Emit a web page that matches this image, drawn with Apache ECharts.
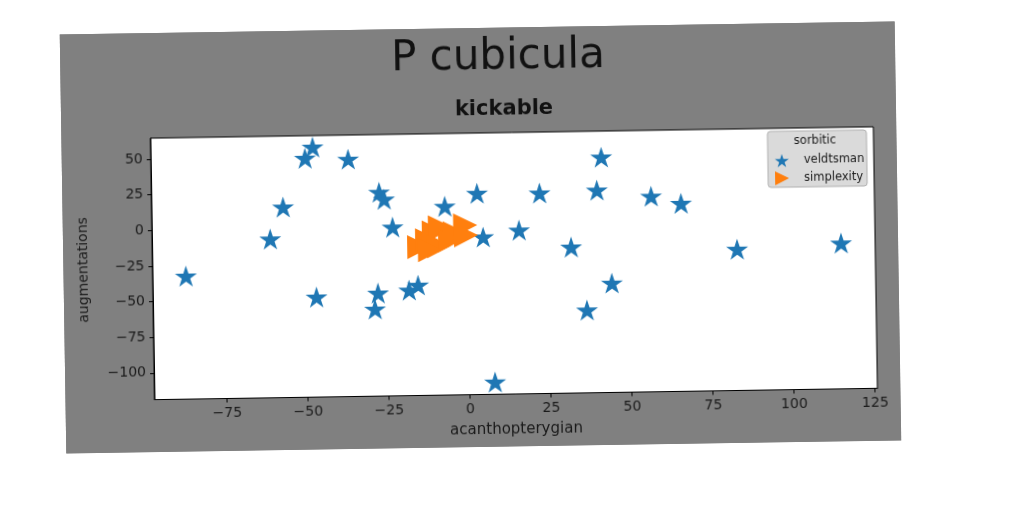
<!DOCTYPE html>
<html><head><meta charset="utf-8">
<script src="https://cdn.jsdelivr.net/npm/echarts@6/dist/echarts.min.js"></script>
<style>
html,body{margin:0;padding:0;background:#fff;width:1024px;height:512px;overflow:hidden;}
#c{position:absolute;left:63px;top:28px;width:835px;height:419px;background:#808080;transform:rotate(-0.9deg);transform-origin:50% 50%;}
</style></head>
<body><div id="c"></div>
<script>
// ---- data ----
const titleText = 'P cubicula';
const subtitleText = 'kickable';
const xName = 'acanthopterygian';
const yName = 'augmentations';
const legendTitle = 'sorbitic';
const seriesNames = ['veldtsman', 'simplexity'];
const xTicks = [-75, -50, -25, 0, 25, 50, 75, 100, 125];
const yTicks = [-100, -75, -50, -25, 0, 25, 50];
const veldtsmanX = [-87.1,-60.9,-56.8,-49.8,-47.4,-46.9,-36.5,-28.9,-27.9,-27.1,-25.6,-23.1,-18.3,-15.5,-6.9,3.1,4.8,7.8,15.9,22.4,31.9,36.5,40.1,41.6,44.3,56.8,66.0,83.1,115.2];
const veldtsmanY = [-32.4,-7.4,14.9,48.9,56.6,-48.6,47.8,-57.6,-46.5,24.3,19.3,-0.4,-44.7,-41.3,13.7,22.5,-8.3,-110.1,-3.9,21.9,-16.3,-60.7,23.3,46.4,-42.0,18.5,13.2,-19.6,-16.5];
const simplexityX = [-15.0,-12.5,-10.4,-8.5,-8.9,-5.4,-3.9,-0.7,-0.5,-11.7];
const simplexityY = [-14.6,-9.9,-4.3,-0.9,-14.2,-10.1,-5.3,0.2,-6.9,-16.9];

// ---- styling helpers ----
function starPath(){
  let d = '';
  for (let i = 0; i < 10; i++) {
    const r = (i % 2 === 0) ? 1 : 0.381966;
    const a = -Math.PI / 2 + i * Math.PI / 5;
    const x = (r * Math.cos(a)).toFixed(4), y = (r * Math.sin(a)).toFixed(4);
    d += (i === 0 ? 'M' : 'L') + x + ',' + y + ' ';
  }
  return 'path://' + d + 'Z';
}
const STAR = starPath();
const TRI = 'path://M0,0 L2,1 L0,2 Z';
const fmt = v => String(v).replace('-', '\u2212');
const zip = (a, b) => a.map((v, i) => [v, b[i]]);

const chart = echarts.init(document.getElementById('c'), null, {renderer: 'canvas'});
chart.setOption({
  animation: false,
  backgroundColor: '#808080',
  textStyle: {fontFamily: 'DejaVu Sans'},
  grid: {left: 89, top: 105, right: 23, bottom: 52.5, show: true, backgroundColor: '#fff', borderColor: '#000', borderWidth: 1, outerBoundsMode: 'none', containLabel: false},
  xAxis: {
    type: 'value', min: -97.4, max: 125.7,
    axisLine: {show: true, onZero: false, lineStyle: {color: '#000', width: 1}},
    axisTick: {show: true, length: 4, lineStyle: {color: '#000'}, customValues: xTicks},
    axisLabel: {customValues: xTicks, fontSize: 14, color: '#1a1a1a', margin: 8, formatter: fmt},
    splitLine: {show: false},
    name: xName, nameLocation: 'middle', nameGap: 28,
    nameTextStyle: {fontSize: 15, color: '#1a1a1a'}
  },
  yAxis: {
    type: 'value', min: -118.7, max: 64.7,
    axisLine: {show: true, onZero: false, lineStyle: {color: '#000', width: 1}},
    axisTick: {show: true, length: 4, lineStyle: {color: '#000'}, customValues: yTicks},
    axisLabel: {customValues: yTicks, fontSize: 14, color: '#1a1a1a', margin: 8, formatter: fmt},
    splitLine: {show: false},
    name: yName, nameLocation: 'middle', nameGap: 62, nameRotate: 90,
    nameTextStyle: {fontSize: 14, color: '#1a1a1a'}
  },
  legend: {
    orient: 'vertical', left: 708, top: 125.7, z: 10, padding: 5,
    itemWidth: 14, itemHeight: 14, itemGap: 4,
    textStyle: {fontSize: 11.5, color: '#1a1a1a', padding: [0, 0, 0, 10]},
    data: [{name: seriesNames[0], icon: STAR}, {name: seriesNames[1], icon: TRI}]
  },
  graphic: [
    {type: 'text', x: 437.8, y: 30.3, z: 10, style: {text: titleText, fontSize: 42, fontFamily: 'DejaVu Sans', fill: '#111', align: 'center', verticalAlign: 'middle'}},
    {type: 'text', x: 443, y: 81.4, z: 10, style: {text: subtitleText, fontSize: 21, fontWeight: 'bold', fontFamily: 'DejaVu Sans', fill: '#111', align: 'center', verticalAlign: 'middle'}},
    {type: 'rect', z: 5, shape: {x: 706, y: 108, width: 99, height: 56, r: 3}, style: {fill: '#dadada', stroke: '#b0b0b0', lineWidth: 1}},
    {type: 'text', x: 753.5, y: 118.3, z: 10, style: {text: legendTitle, fontSize: 11.5, fontFamily: 'DejaVu Sans', fill: '#1a1a1a', align: 'center', verticalAlign: 'middle'}}
  ],
  series: [
    {name: seriesNames[0], type: 'scatter', data: zip(veldtsmanX, veldtsmanY), symbol: STAR, symbolSize: 22, symbolKeepAspect: true, itemStyle: {color: '#1f77b4', opacity: 1}, z: 2},
    {name: seriesNames[1], type: 'scatter', data: zip(simplexityX, simplexityY), symbol: TRI, symbolSize: 24, itemStyle: {color: '#ff7f0e', opacity: 1}, z: 3}
  ]
});
</script>
</body></html>
